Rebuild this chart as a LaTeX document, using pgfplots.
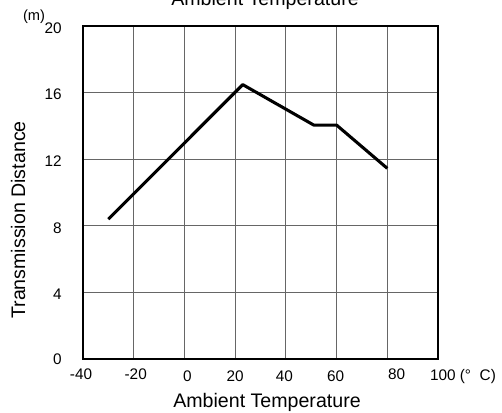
\documentclass[border=0pt]{standalone}
\usepackage{fontspec}
\setmainfont{Liberation Sans}
\usepackage{pgfplots}
\pgfplotsset{compat=1.18}
\newcommand{\tl}[3]{\raisebox{#2}[\height][\depth]{\hspace*{#1}#3\hspace*{-#1}}}
\begin{document}
\begin{tikzpicture}
\begin{axis}[
  scale only axis, width=266.25pt, height=249.75pt,
  xmin=-40, xmax=100, ymin=0, ymax=20,
  xtick={-40,-20,0,20,40,60,80,100},
  ytick={0,4,8,12,16,20},
  xticklabels={{\tl{-1.5pt}{0pt}{-40}},{\tl{1.5pt}{0pt}{-20}},{\tl{2.25pt}{-1.2pt}{0}},{\tl{0pt}{-1pt}{20}},{\tl{-1.1pt}{-1pt}{40}},{\tl{-0.75pt}{-1pt}{60}},{\tl{7pt}{0pt}{80}},{\makebox[0pt][l]{\hspace*{-6pt}100 (°\hspace{6.5pt}C)}}},
  yticklabels={{\tl{0pt}{1.5pt}{0}},4,8,12,16,20},
  grid=major,
  major grid style={black!60, line width=0.8pt},
  major tick length=0pt,
  axis line style={black, line width=0.8pt},
  tick label style={font=\fontsize{11.5}{13}\selectfont},
  xticklabel style={inner sep=0pt, anchor=north, yshift=-7.5pt},
  yticklabel style={inner sep=0pt, anchor=east, xshift=-15.75pt, yshift=-1.5pt},
  /pgf/number format/assume math mode=true,
  clip=false,
]
\coordinate (O) at (rel axis cs:0,0);
\addplot[black, line width=2.3pt, line join=round] coordinates {(-30,8.4) (23,16.48) (51,14.05) (60,14.05) (80,11.45)};
\end{axis}
\node[anchor=base, font=\fontsize{14.7}{17}\selectfont] at ([shift={(136.5pt,265.5pt)}]O) {Ambient Temperature};
\node[anchor=base, font=\fontsize{14.7}{17}\selectfont] at ([shift={(138pt,-36.5pt)}]O) {Ambient Temperature};
\node[rotate=90, anchor=center, font=\fontsize{14.7}{17}\selectfont] at ([shift={(-48.75pt,104.25pt)}]O) {Transmission Distance};
\node[anchor=center, font=\fontsize{11}{13}\selectfont] at ([shift={(-36.75pt,256.5pt)}]O) {(m)};
\pgfresetboundingbox
\path[use as bounding box] ([shift={(-62.25pt,-39.75pt)}]O) rectangle ++(376.5pt,309pt);
\end{tikzpicture}
\end{document}
